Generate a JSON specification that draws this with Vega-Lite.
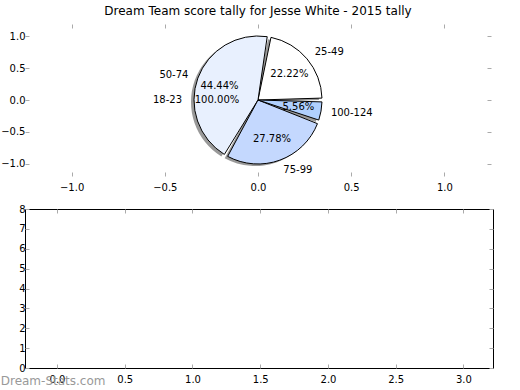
{
  "$schema": "https://vega.github.io/schema/vega-lite/v6.json",
  "background": "white",
  "padding": {"left": 0, "top": 4, "right": 0, "bottom": 0},
  "config": {
    "font": "DejaVu Sans",
    "view": {"stroke": null},
    "axis": {
      "labelFont": "DejaVu Sans", "labelFontSize": 10, "labelColor": "black",
      "grid": false, "domain": false, "tickColor": "#aaaaaa", "tickSize": -4,
      "labelPadding": 4, "labelFlush": false, "labelOverlap": false, "title": null
    },
    "axisX": {"labelPadding": 10}
  },
  "title": {"text": "Dream-Stats.com", "orient": "bottom", "anchor": "start", "frame": "bounds", "color": "#999999", "fontSize": 12, "fontWeight": "normal", "offset": -9},
  "datasets": {
    "tally": [
      {"bucket": "25-49", "count": 4, "pct": "22.22%"},
      {"bucket": "50-74", "count": 8, "pct": "44.44%"},
      {"bucket": "75-99", "count": 5, "pct": "27.78%"},
      {"bucket": "100-124", "count": 1, "pct": "5.56%"}
    ],
    "single": [
      {"bucket": "18-23", "count": 1, "pct": "100.00%"}
    ]
  },
  "spacing": 11,
  "vconcat": [
    {
      "width": 466, "height": 152,
      "title": {"text": "Dream Team score tally for Jesse White - 2015 tally", "fontSize": 12, "fontWeight": "normal", "frame": "group", "anchor": "middle", "offset": 6, "color": "black"},
      "layer": [
        {
          "data": {"name": "tally"},
          "transform": [{"window": [{"op": "row_number", "as": "k"}]}],
          "mark": {"type": "arc", "radius": 64, "padAngle": 0.06, "fill": "#555555", "opacity": 0.6, "xOffset": -3, "yOffset": 2},
          "encoding": {
            "x": {"datum": 0, "type": "quantitative", "scale": {"domain": [-1.25, 1.25]}, "axis": {"orient": "bottom", "values": [-1, -0.5, 0, 0.5, 1], "format": ".1f"}},
            "y": {"datum": 0, "type": "quantitative", "scale": {"domain": [-1.19, 1.19]}, "axis": {"orient": "left", "values": [-1, -0.5, 0, 0.5, 1], "format": ".1f"}},
            "theta": {"field": "count", "type": "quantitative", "stack": true, "scale": {"range": [1.5708, -4.7124]}},
            "order": {"field": "k"},
            "detail": {"field": "bucket"}
          }
        },
        {
          "data": {"name": "tally"},
          "transform": [{"window": [{"op": "row_number", "as": "k"}]}],
          "mark": {"type": "arc", "radius": 64, "padAngle": 0.06, "stroke": "black", "strokeWidth": 1},
          "encoding": {
            "x": {"datum": 0, "type": "quantitative", "scale": {"domain": [-1.25, 1.25]}, "axis": {"orient": "top", "values": [-1, -0.5, 0, 0.5, 1], "labels": false}},
            "y": {"datum": 0, "type": "quantitative", "scale": {"domain": [-1.19, 1.19]}, "axis": {"orient": "right", "values": [-1, -0.5, 0, 0.5, 1], "labels": false}},
            "theta": {"field": "count", "type": "quantitative", "stack": true, "scale": {"range": [1.5708, -4.7124]}},
            "order": {"field": "k"},
            "color": {"field": "bucket", "type": "nominal", "legend": null, "scale": {"domain": ["25-49", "50-74", "75-99", "100-124"], "range": ["#ffffff", "#e8f0fe", "#c4d8fe", "#b0d0fe"]}}
          }
        },
        {
          "data": {"name": "tally"},
          "transform": [{"window": [{"op": "row_number", "as": "k"}]}],
          "mark": {"type": "text", "radius": 74, "fontSize": 10, "color": "black", "align": "left"},
          "encoding": {
            "x": {"datum": 0, "type": "quantitative", "scale": {"domain": [-1.25, 1.25]}, "axis": null},
            "y": {"datum": 0, "type": "quantitative", "scale": {"domain": [-1.19, 1.19]}, "axis": null},
            "theta": {"field": "count", "type": "quantitative", "stack": true, "scale": {"range": [1.5708, -4.7124]}},
            "order": {"field": "k"},
            "detail": {"field": "bucket"},
            "text": {"condition": {"test": "datum.bucket !== '50-74'", "field": "bucket"}, "value": ""}
          }
        },
        {
          "data": {"name": "tally"},
          "transform": [{"window": [{"op": "row_number", "as": "k"}]}],
          "mark": {"type": "text", "radius": 74, "fontSize": 10, "color": "black", "align": "right"},
          "encoding": {
            "x": {"datum": 0, "type": "quantitative", "scale": {"domain": [-1.25, 1.25]}, "axis": null},
            "y": {"datum": 0, "type": "quantitative", "scale": {"domain": [-1.19, 1.19]}, "axis": null},
            "theta": {"field": "count", "type": "quantitative", "stack": true, "scale": {"range": [1.5708, -4.7124]}},
            "order": {"field": "k"},
            "detail": {"field": "bucket"},
            "text": {"condition": {"test": "datum.bucket === '50-74'", "field": "bucket"}, "value": ""}
          }
        },
        {
          "data": {"name": "tally"},
          "transform": [{"window": [{"op": "row_number", "as": "k"}]}],
          "mark": {"type": "text", "radius": 41, "fontSize": 10, "color": "black"},
          "encoding": {
            "x": {"datum": 0, "type": "quantitative", "scale": {"domain": [-1.25, 1.25]}, "axis": null},
            "y": {"datum": 0, "type": "quantitative", "scale": {"domain": [-1.19, 1.19]}, "axis": null},
            "theta": {"field": "count", "type": "quantitative", "stack": true, "scale": {"range": [1.5708, -4.7124]}},
            "order": {"field": "k"},
            "detail": {"field": "bucket"},
            "text": {"field": "pct"}
          }
        },
        {
          "data": {"name": "single"},
          "mark": {"type": "text", "radius": 76, "fontSize": 10, "color": "black", "align": "right"},
          "encoding": {
            "x": {"datum": 0, "type": "quantitative", "scale": {"domain": [-1.25, 1.25]}, "axis": null},
            "y": {"datum": 0, "type": "quantitative", "scale": {"domain": [-1.19, 1.19]}, "axis": null},
            "theta": {"field": "count", "type": "quantitative", "stack": true, "scale": {"range": [1.5708, -4.7124]}},
            "text": {"field": "bucket"}
          }
        },
        {
          "data": {"name": "single"},
          "mark": {"type": "text", "radius": 41, "fontSize": 10, "color": "black"},
          "encoding": {
            "x": {"datum": 0, "type": "quantitative", "scale": {"domain": [-1.25, 1.25]}, "axis": null},
            "y": {"datum": 0, "type": "quantitative", "scale": {"domain": [-1.19, 1.19]}, "axis": null},
            "theta": {"field": "count", "type": "quantitative", "stack": true, "scale": {"range": [1.5708, -4.7124]}},
            "text": {"field": "pct"}
          }
        }
      ],
      "resolve": {"scale": {"theta": "independent"}, "axis": {"x": "independent", "y": "independent"}}
    },
    {
      "width": 468, "height": 159,
      "view": {"stroke": "black", "strokeWidth": 1},
      "data": {"values": []},
      "layer": [
        {
          "mark": {"type": "point", "opacity": 0},
          "encoding": {
            "x": {"field": "x", "type": "quantitative", "scale": {"domain": [-0.236, 3.218], "nice": false, "zero": false}, "axis": {"orient": "bottom", "values": [0, 0.5, 1, 1.5, 2, 2.5, 3], "format": ".1f"}},
            "y": {"field": "y", "type": "quantitative", "scale": {"domain": [0, 8], "nice": false}, "axis": {"orient": "left", "values": [0, 1, 2, 3, 4, 5, 6, 7, 8], "format": "d"}}
          }
        },
        {
          "mark": {"type": "point", "opacity": 0},
          "encoding": {
            "x": {"field": "x", "type": "quantitative", "scale": {"domain": [-0.236, 3.218], "nice": false, "zero": false}, "axis": {"orient": "top", "values": [0, 0.5, 1, 1.5, 2, 2.5, 3], "labels": false}},
            "y": {"field": "y", "type": "quantitative", "scale": {"domain": [0, 8], "nice": false}, "axis": {"orient": "right", "values": [0, 1, 2, 3, 4, 5, 6, 7, 8], "labels": false}}
          }
        }
      ],
      "resolve": {"axis": {"x": "independent", "y": "independent"}}
    }
  ]
}
